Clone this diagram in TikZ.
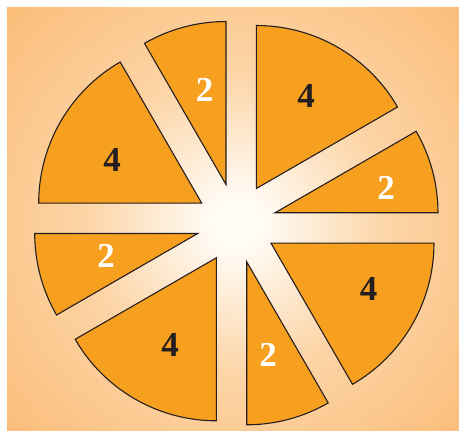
\documentclass[tikz,border=0pt]{standalone}
\usepackage{fontspec}
\setmainfont{Liberation Serif}
\definecolor{bgorange}{RGB}{250,184,112}
\definecolor{bgmid}{RGB}{252,212,165}
\definecolor{bgwhite}{RGB}{255,251,245}
\definecolor{sliceorange}{RGB}{247,159,30}
\definecolor{edgedark}{RGB}{35,31,32}
\pgfdeclareradialshading{bgshade}{\pgfpoint{0bp}{0bp}}{color(0bp)=(bgwhite); color(2bp)=(bgwhite); color(12bp)=(bgmid); color(27bp)=(bgorange); color(50bp)=(bgorange)}
\tikzset{
  slice/.style={fill=sliceorange, draw=edgedark, line width=1.1pt, line join=miter},
  lbl/.style={font=\fontsize{35}{35}\selectfont\bfseries, inner sep=0pt, anchor=center},
  lbldark/.style={lbl, text=edgedark},
  lbllight/.style={lbl, text=white}
}
\newcommand{\mkslice}[3]{% name, start angle, end angle
  \coordinate (#1) at ($(C)+({(#2+#3)/2}:40pt)$);
  \draw[slice] (#1) -- ++(#2:163pt) arc[start angle=#2, end angle=#3, radius=163pt] -- cycle;
}
\usetikzlibrary{calc}
\begin{document}
\begin{tikzpicture}[x=1pt,y=1pt]
\useasboundingbox (0,0) rectangle (459,-431);
\coordinate (C) at (236.35,-223.15);
\begin{scope}
  \clip (7,-7) rectangle (459,-431);
  \fill[shading=bgshade] (C) circle (320pt);
\end{scope}
\mkslice{s1}{90}{120}
\mkslice{s2}{30}{90}
\mkslice{s3}{0}{30}
\mkslice{s4}{-60}{0}
\mkslice{s5}{-90}{-60}
\mkslice{s6}{-150}{-90}
\mkslice{s7}{180}{210}
\mkslice{s8}{120}{180}
\node[lbllight] (l1) at (204.5,-90) {2};
\node[lbldark]  (l2) at (306,-96) {4};
\node[lbllight] (l3) at (386,-188) {2};
\node[lbldark]  (l4) at (368.5,-289) {4};
\node[lbllight] (l5) at (268,-355) {2};
\node[lbldark]  (l6) at (170,-345) {4};
\node[lbllight] (l7) at (106,-256) {2};
\node[lbldark]  (l8) at (112,-160) {4};
\end{tikzpicture}
\end{document}
